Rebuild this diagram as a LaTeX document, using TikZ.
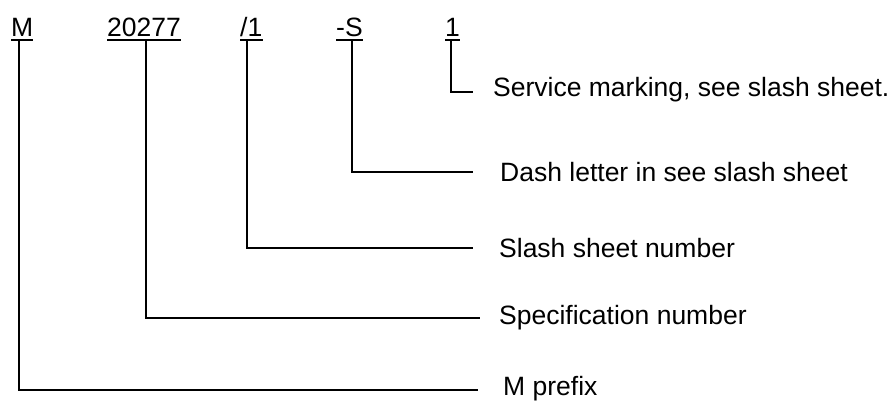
\documentclass[tikz,border=0pt]{standalone}
\usepackage{fontspec}
\setmainfont{Liberation Sans}
\begin{document}
\begin{tikzpicture}[x=1pt,y=-1pt,
  code/.style={anchor=base west,inner sep=0pt,font=\fontsize{26.5}{30}\selectfont},
  lbl/.style={anchor=base west,inner sep=0pt,font=\fontsize{26.5}{30}\selectfont},
  uline/.style={line width=1.6pt},
  conn/.style={line width=1.6pt}]
\useasboundingbox (0,0) rectangle (891,402);
% top code parts
\node[code] (m)  at (11,36)  {M};
\node[code] (sp) at (107,36) {20277};
\node[code] (sl) at (240,36) {/1};
\node[code] (da) at (336,36) {-S};
\node[code] (sv) at (445,36) {1};
\foreach \n in {m,sp,sl,da,sv}
  \draw[uline] ([yshift=-4pt]\n.base west) -- ([yshift=-4pt]\n.base east);
% connector tops
\coordinate (tm)  at (19,40);
\coordinate (tsp) at (146,40);
\coordinate (tsl) at (247,40);
\coordinate (tda) at (352,40);
\coordinate (tsv) at (451,40);
% connector ends
\coordinate (esv) at (473,92);
\coordinate (eda) at (473,172);
\coordinate (esl) at (473,248);
\coordinate (esp) at (480,318);
\coordinate (em)  at (478,390);
% labels
\node[lbl] (lsv) at (493,96)  {Service marking, see slash sheet.};
\node[lbl] (lda) at (500,181) {Dash letter in see slash sheet};
\node[lbl] (lsl) at (499,257) {Slash sheet number};
\node[lbl] (lsp) at (499,324) {Specification number};
\node[lbl] (lm)  at (503,395.5) {M prefix};
% connectors
\draw[conn] (tsv) |- (esv);
\draw[conn] (tda) |- (eda);
\draw[conn] (tsl) |- (esl);
\draw[conn] (tsp) |- (esp);
\draw[conn] (tm)  |- (em);
\end{tikzpicture}
\end{document}
